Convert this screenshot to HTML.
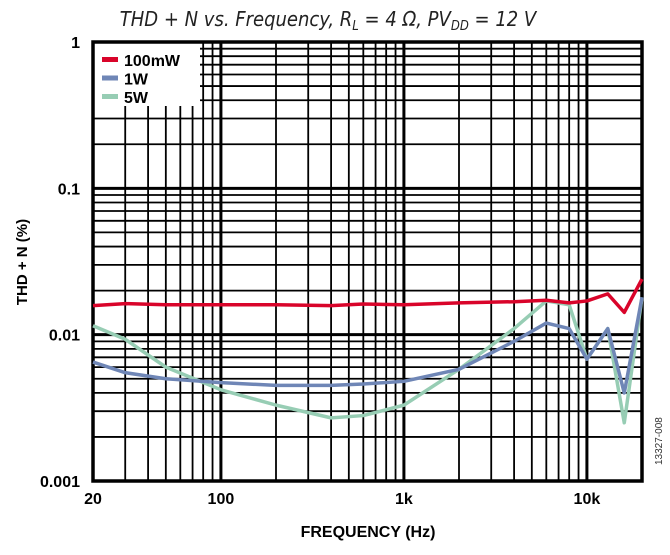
<!DOCTYPE html>
<html><head><meta charset="utf-8"><style>
body{margin:0;background:#fff;width:670px;height:550px;overflow:hidden}
text{font-family:"Liberation Sans",sans-serif}
</style></head><body>
<svg id="chart" width="670" height="550">
<text x="328" y="26" text-anchor="middle" font-size="20" font-style="italic" fill="#222" style="font-family:'DejaVu Sans Condensed','Liberation Sans Narrow','Liberation Sans',sans-serif">THD + N vs. Frequency, R<tspan font-size="13" dy="4">L</tspan><tspan dy="-4"> = 4 Ω, PV</tspan><tspan font-size="13" dy="4">DD</tspan><tspan dy="-4"> = 12 V</tspan></text>
<g id="grid"></g>
<g id="series"></g>
<g id="legend"></g>
<text x="368" y="537" text-anchor="middle" font-size="16" font-weight="bold">FREQUENCY (Hz)</text>
<text transform="translate(27,262) rotate(-90)" text-anchor="middle" font-size="15" font-weight="bold">THD + N (%)</text>
<text transform="translate(662,465) rotate(-90)" font-size="10" fill="#333">13327-008</text>
</svg>
<script>
const freqs=[20,30,50,100,200,400,600,1000,2000,4000,6000,8000,10000,13000,16000,20000];
const s100mW=[0.0158,0.0163,0.016,0.016,0.016,0.0158,0.0162,0.016,0.0165,0.0168,0.0172,0.0165,0.017,0.019,0.0142,0.024];
const s1W=[0.0065,0.0055,0.005,0.0047,0.0045,0.0045,0.0046,0.0048,0.0058,0.009,0.012,0.011,0.0068,0.011,0.004,0.018];
const s5W=[0.0115,0.0093,0.006,0.0042,0.0033,0.0027,0.0028,0.0033,0.0058,0.011,0.017,0.016,0.0068,0.011,0.0025,0.018];
const seriesNames=["100mW","1W","5W"];
const xTicks=[20,100,1000,10000];
const xTickLabels=["20","100","1k","10k"];
const yTicks=[0.001,0.01,0.1,1];
const yTickLabels=["0.001","0.01","0.1","1"];
const L=93,R=642,T=42,B=481;
const xs=f=>L+(Math.log10(f)-Math.log10(20))/(Math.log10(20000)-Math.log10(20))*(R-L);
const ys=v=>B-(Math.log10(v)+3)/3*(B-T);
const NS="http://www.w3.org/2000/svg";
function mk(tag,attrs,parent){const e=document.createElementNS(NS,tag);for(const k in attrs)e.setAttribute(k,attrs[k]);parent.appendChild(e);return e;}
const g=document.getElementById('grid');
for(let d=10;d<=10000;d*=10)for(let m=1;m<=9;m++){const f=d*m;if(f<20||f>20000)continue;
 const l=mk('line',{x1:xs(f),x2:xs(f),y1:T,y2:B,stroke:'#000','stroke-width':m==1?3:1.8},g);
 
 }
for(let d=0.001;d<1;d*=10)for(let m=1;m<=9;m++){const v=d*m;
 const l=mk('line',{x1:L,x2:R,y1:ys(v),y2:ys(v),stroke:'#000','stroke-width':m==1?3:1.8},g);
 
 }
const lb=mk('rect',{x:L+1,y:T+1,width:106,height:63,fill:'#fff'},g);


const fr=mk('rect',{x:L,y:T,width:R-L,height:B-T,fill:'none',stroke:'#000','stroke-width':3.5},g);


xTicks.forEach((f,i)=>{const t=mk('text',{x:xs(f),y:B+23,'text-anchor':'middle','font-size':16,'font-weight':'bold'},g);t.textContent=xTickLabels[i];
 
 });
yTicks.forEach((v,i)=>{const t=mk('text',{x:L-13,y:ys(v)+6,'text-anchor':'end','font-size':16,'font-weight':'bold'},g);t.textContent=yTickLabels[i];
 
 });
const sg=document.getElementById('series');
const colors=['#d9042a','#6f86b6','#97cdb4'];
const data=[s100mW,s1W,s5W];
[2,1,0].forEach(i=>{const p=mk('polyline',{points:freqs.map((f,j)=>xs(f)+','+ys(data[i][j])).join(' '),fill:'none',stroke:colors[i],'stroke-width':3.5,'stroke-linejoin':'round'},sg);
 
 });
const lg=document.getElementById('legend');
seriesNames.forEach((n,i)=>{const y=60+i*18.5;
 const r=mk('rect',{x:102,y:y-3,width:16,height:5,fill:colors[i]},lg);
 
 
 const t=mk('text',{x:124,y:y+6,'font-size':16,'font-weight':'bold'},lg);t.textContent=n;
 
 });
</script>
</body></html>
